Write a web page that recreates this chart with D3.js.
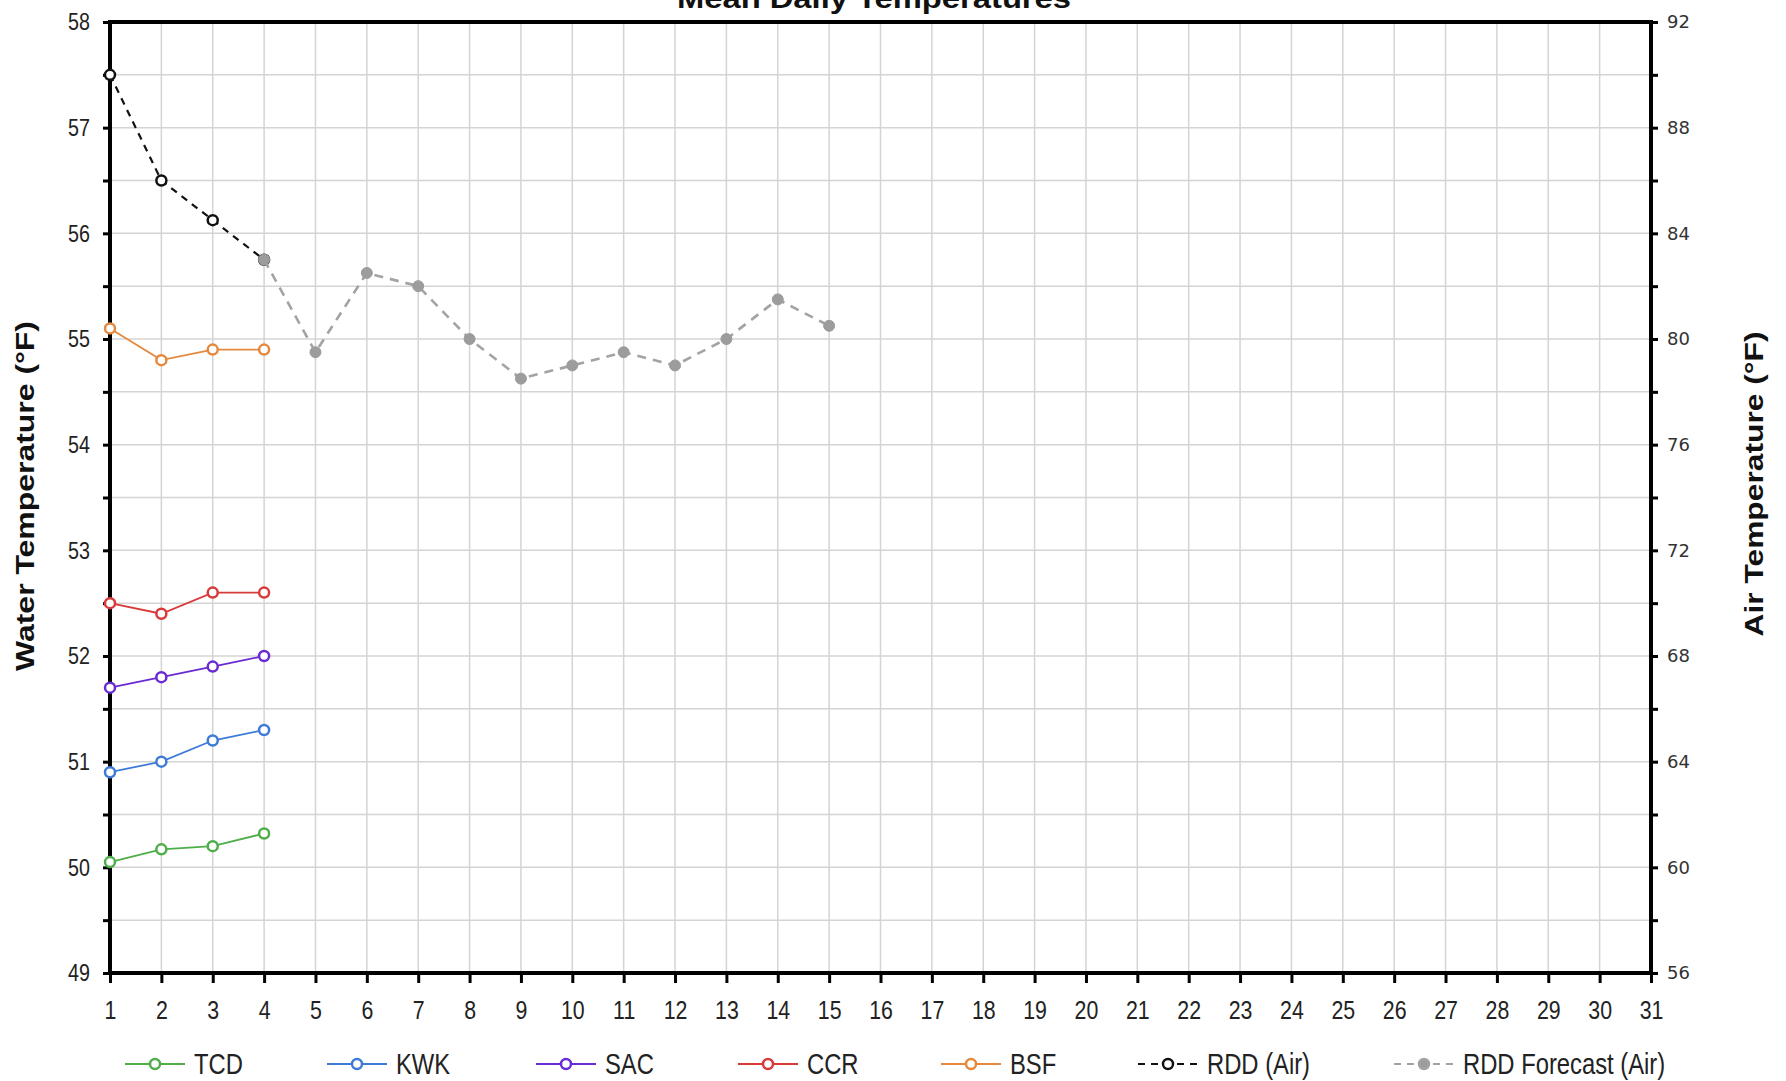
<!DOCTYPE html>
<html><head><meta charset="utf-8">
<script src="https://cdnjs.cloudflare.com/ajax/libs/d3/7.8.5/d3.min.js"></script>
<style>html,body{margin:0;padding:0;background:#fff;}svg{display:block;}</style>
</head><body>
<svg id="chart" width="1786" height="1081"></svg>
<script>
// ---- data ----
const days = d3.range(1, 32);
const obsDays = [1, 2, 3, 4];
const tcd = [50.05, 50.17, 50.2, 50.32];
const kwk = [50.9, 51.0, 51.2, 51.3];
const sac = [51.7, 51.8, 51.9, 52.0];
const ccr = [52.5, 52.4, 52.6, 52.6];
const bsf = [55.1, 54.8, 54.9, 54.9];
const rddAir = [90, 86, 84.5, 83];
const forecastDays = [4, 5, 6, 7, 8, 9, 10, 11, 12, 13, 14, 15];
const rddForecast = [83, 79.5, 82.5, 82, 80, 78.5, 79, 79.5, 79, 80, 81.5, 80.5];
const waterTicks = d3.range(49, 58.01, 0.5);
const airTicks = d3.range(56, 92.01, 2);
const seriesNames = ["TCD", "KWK", "SAC", "CCR", "BSF"];
const seriesValues = [tcd, kwk, sac, ccr, bsf];
const seriesColors = ["#4fae4a", "#3d7bd6", "#6a2bd3", "#d83a3a", "#e5893e"];
const titleText = "Mean Daily Temperatures";
const leftTitle = "Water Temperature (°F)";
const rightTitle = "Air Temperature (°F)";

// ---- layout ----
const L = 110, R = 1651, T = 22, B = 973;
const svg = d3.select("#chart");
const x = d3.scaleLinear().domain([1, 31]).range([L, R]);
const yW = d3.scaleLinear().domain([49, 58]).range([B, T]);
const yA = d3.scaleLinear().domain([56, 92]).range([B, T]);

// narrow font detection
const probe = svg.append("text").attr("font-size", 40).text("TCD KWK Forecast");
probe.attr("font-family", "'Liberation Sans'");
const wReg = probe.node().getComputedTextLength();
probe.attr("font-family", "'Liberation Sans Narrow','DejaVu Sans Mono'");
const wNar = probe.node().getComputedTextLength();
probe.remove();
const hasNarrow = wNar / wReg < 0.9;
const NARROW = hasNarrow ? "'Liberation Sans Narrow'" : "'Liberation Sans'";
function narrowize(sel) {
  sel.attr("font-family", NARROW);
  if (!hasNarrow) {
    sel.each(function () {
      const w = this.getComputedTextLength();
      if (w > 0) d3.select(this).attr("textLength", w * 0.82).attr("lengthAdjust", "spacingAndGlyphs");
    });
  }
}

// gridlines
const grid = svg.append("g");
grid.selectAll("line.h").data(waterTicks.filter(v => v > 49 && v < 58)).join("line")
  .attr("x1", L).attr("x2", R).attr("y1", d => yW(d)).attr("y2", d => yW(d))
  .attr("stroke", "#d4d4d4").attr("stroke-width", 1.5);
grid.selectAll("line.v").data(days.filter(d => d > 1 && d < 31)).join("line")
  .attr("y1", T).attr("y2", B).attr("x1", d => x(d)).attr("x2", d => x(d))
  .attr("stroke", "#d4d4d4").attr("stroke-width", 1.5);

// axes
const gx = svg.append("g").attr("transform", `translate(0,${B})`)
  .call(d3.axisBottom(x).tickValues(days).tickSize(10).tickSizeOuter(0).tickPadding(18).tickFormat(d3.format("d")));
const gl = svg.append("g").attr("transform", `translate(${L},0)`)
  .call(d3.axisLeft(yW).tickValues(waterTicks).tickSize(7).tickSizeOuter(0).tickPadding(13)
    .tickFormat(d => Number.isInteger(d) ? d : ""));
const gr = svg.append("g").attr("transform", `translate(${R},0)`)
  .call(d3.axisRight(yA).tickValues(airTicks).tickSize(7).tickSizeOuter(0).tickPadding(9)
    .tickFormat(d => d % 4 === 0 ? d : ""));
[gx, gl, gr].forEach(g => {
  g.select(".domain").remove();
  g.selectAll(".tick line").attr("stroke", "#000").attr("stroke-width", 3);
});
gx.selectAll("text").attr("font-size", 26).attr("fill", "#222").attr("dy", "0.71em");
narrowize(gx.selectAll("text"));
gl.selectAll("text").attr("font-size", 24).attr("fill", "#222");
narrowize(gl.selectAll("text"));
gr.selectAll("text").attr("font-size", 18).attr("fill", "#333").attr("font-family", "'DejaVu Sans'");

// frame
svg.append("rect").attr("x", L).attr("y", T).attr("width", R - L).attr("height", B - T)
  .attr("fill", "none").attr("stroke", "#000").attr("stroke-width", 4);

// water series
const lineW = d3.line().x((d, i) => x(obsDays[i])).y(d => yW(d));
seriesValues.forEach((vals, k) => {
  svg.append("path").datum(vals).attr("d", lineW).attr("fill", "none")
    .attr("stroke", seriesColors[k]).attr("stroke-width", 1.8);
  svg.append("g").selectAll("circle").data(vals).join("circle")
    .attr("cx", (d, i) => x(obsDays[i])).attr("cy", d => yW(d)).attr("r", 5)
    .attr("fill", "#fff").attr("stroke", seriesColors[k]).attr("stroke-width", 2.5);
});

// RDD air observed
const lineA = d3.line().x((d, i) => x(obsDays[i])).y(d => yA(d));
svg.append("path").datum(rddAir).attr("d", lineA).attr("fill", "none")
  .attr("stroke", "#111").attr("stroke-width", 2.2).attr("stroke-dasharray", "7,6");
svg.append("g").selectAll("circle").data(rddAir).join("circle")
  .attr("cx", (d, i) => x(obsDays[i])).attr("cy", d => yA(d)).attr("r", 5)
  .attr("fill", "#fff").attr("stroke", "#111").attr("stroke-width", 2.5);

// RDD forecast
const lineF = d3.line().x((d, i) => x(forecastDays[i])).y(d => yA(d));
svg.append("path").datum(rddForecast).attr("d", lineF).attr("fill", "none")
  .attr("stroke", "#a3a3a3").attr("stroke-width", 2.6).attr("stroke-dasharray", "9,7");
svg.append("g").selectAll("circle").data(rddForecast).join("circle")
  .attr("cx", (d, i) => x(forecastDays[i])).attr("cy", d => yA(d)).attr("r", 5.5)
  .attr("fill", "#9c9c9c").attr("stroke", "#9c9c9c").attr("stroke-width", 1);

// titles
svg.append("text").attr("x", 874).attr("y", 8).attr("text-anchor", "middle")
  .attr("font-family", "'Liberation Sans'").attr("font-weight", "bold").attr("font-size", 28)
  .attr("fill", "#111").attr("textLength", 394).attr("lengthAdjust", "spacingAndGlyphs").text(titleText);
svg.append("text").attr("transform", "translate(34,496) rotate(-90)").attr("text-anchor", "middle")
  .attr("font-family", "'Liberation Sans'").attr("font-weight", "bold").attr("font-size", 26)
  .attr("fill", "#111").attr("textLength", 350).attr("lengthAdjust", "spacingAndGlyphs").text(leftTitle);
svg.append("text").attr("transform", "translate(1763,484) rotate(-90)").attr("text-anchor", "middle")
  .attr("font-family", "'Liberation Sans'").attr("font-weight", "bold").attr("font-size", 26)
  .attr("fill", "#111").attr("textLength", 305).attr("lengthAdjust", "spacingAndGlyphs").text(rightTitle);

// legend
const legendItems = [
  {name: "TCD", color: seriesColors[0], x0: 125, dash: null, fill: "#fff"},
  {name: "KWK", color: seriesColors[1], x0: 327, dash: null, fill: "#fff"},
  {name: "SAC", color: seriesColors[2], x0: 536, dash: null, fill: "#fff"},
  {name: "CCR", color: seriesColors[3], x0: 738, dash: null, fill: "#fff"},
  {name: "BSF", color: seriesColors[4], x0: 941, dash: null, fill: "#fff"},
  {name: "RDD (Air)", color: "#111", x0: 1138, dash: "7,6", fill: "#fff"},
  {name: "RDD Forecast (Air)", color: "#a3a3a3", x0: 1394, dash: "7,6", fill: "#9c9c9c"}
];
const ly = 1064;
const lg = svg.append("g");
legendItems.forEach(it => {
  lg.append("line").attr("x1", it.x0).attr("x2", it.x0 + 60).attr("y1", ly).attr("y2", ly)
    .attr("stroke", it.color).attr("stroke-width", 2).attr("stroke-dasharray", it.dash);
  lg.append("circle").attr("cx", it.x0 + 30).attr("cy", ly).attr("r", 5)
    .attr("fill", it.fill).attr("stroke", it.color).attr("stroke-width", 2.5);
  const t = lg.append("text").attr("x", it.x0 + 69).attr("y", ly + 10).attr("font-size", 29)
    .attr("fill", "#222").text(it.name);
  narrowize(t);
});
</script>
</body></html>
